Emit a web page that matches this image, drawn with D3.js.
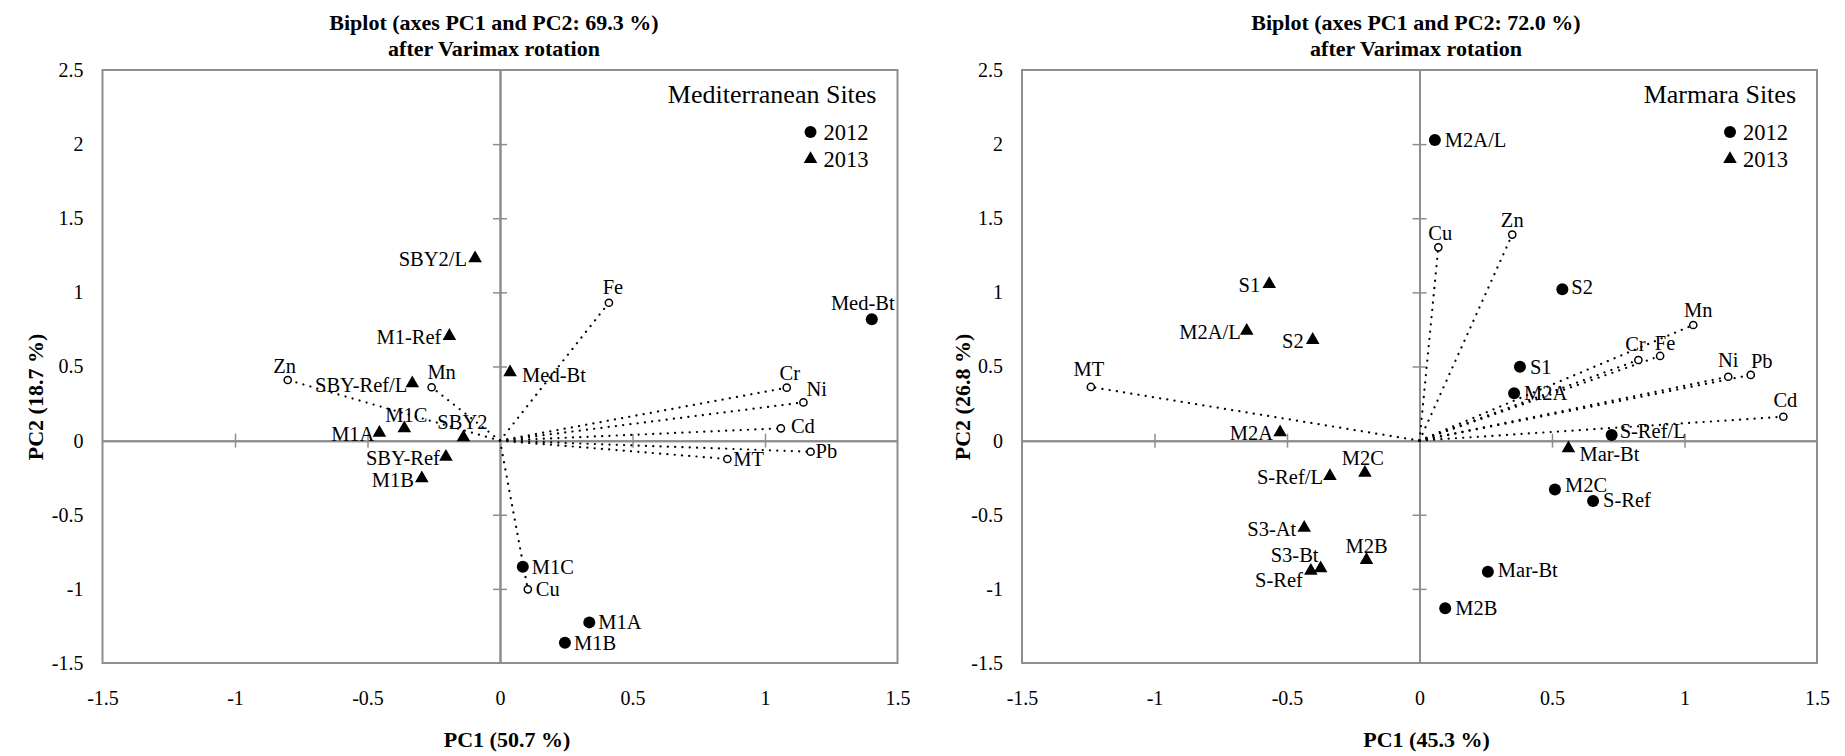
<!DOCTYPE html>
<html><head><meta charset="utf-8">
<script src="https://cdn.jsdelivr.net/npm/d3@7"></script>
<style>
body{margin:0;background:#fff}
svg{display:block;background:#fff}
</style>
</head><body>
<svg id="chart" width="1845" height="756"></svg>
<script>
// ---------- DATA: Mediterranean (left panel) ----------
const medTitle = "Biplot (axes PC1 and PC2: 69.3 %)";
const medSite = "Mediterranean Sites";
const medPC1Title = "PC1 (50.7 %)";
const medPC2Title = "PC2 (18.7 %)";
const medVarNames = ["Zn","Mn","Fe","Cr","Ni","Cd","Pb","MT","Cu"];
const medVarPC1   = [-0.801,-0.258,0.411,1.082,1.145,1.060,1.172,0.858,0.105];
const medVarPC2   = [0.409,0.360,0.930,0.357,0.258,0.083,-0.075,-0.124,-1.003];
const med2012Names = ["Med-Bt","M1C","M1A","M1B"];
const med2012PC1   = [1.403,0.086,0.337,0.245];
const med2012PC2   = [0.818,-0.850,-1.226,-1.363];
const med2013Names = ["SBY2/L","M1-Ref","SBY-Ref/L","Med-Bt","M1C","M1A","SBY2","SBY-Ref","M1B"];
const med2013PC1   = [-0.094,-0.191,-0.331,0.038,-0.361,-0.455,-0.138,-0.204,-0.295];
const med2013PC2   = [1.230,0.706,0.387,0.461,0.083,0.053,0.022,-0.109,-0.254];

// ---------- DATA: Marmara (right panel) ----------
const marTitle = "Biplot (axes PC1 and PC2: 72.0 %)";
const marSite = "Marmara Sites";
const marPC1Title = "PC1 (45.3 %)";
const marPC2Title = "PC2 (26.8 %)";
const marVarNames = ["Cu","Zn","Mn","Cr","Fe","Ni","Pb","Cd","MT"];
const marVarPC1   = [0.071,0.350,1.033,0.826,0.908,1.165,1.250,1.373,-1.240];
const marVarPC2   = [1.304,1.390,0.780,0.544,0.571,0.431,0.443,0.161,0.362];
const mar2012Names = ["M2A/L","S2","S1","M2A","S-Ref/L","M2C","S-Ref","Mar-Bt","M2B"];
const mar2012PC1   = [0.058,0.539,0.379,0.357,0.725,0.511,0.655,0.258,0.097];
const mar2012PC2   = [2.028,1.021,0.499,0.319,0.038,-0.329,-0.407,-0.884,-1.131];
const mar2013Names = ["S1","M2A/L","S2","M2A","S-Ref/L","M2C","S3-At","S3-Bt","S-Ref","M2B","Mar-Bt"];
const mar2013PC1   = [-0.567,-0.652,-0.403,-0.526,-0.338,-0.206,-0.435,-0.373,-0.410,-0.200,0.562];
const mar2013PC2   = [1.056,0.741,0.679,0.056,-0.239,-0.217,-0.588,-0.861,-0.878,-0.805,-0.052];

// ---------- AXES ----------
const xTickValues = [-1.5,-1,-0.5,0,0.5,1,1.5];
const yTickValues = [-1.5,-1,-0.5,0,0.5,1,1.5,2,2.5];
const subTitle = "after Varimax rotation";
const legendYears = ["2012","2013"];

// ---------- LABEL PLACEMENT (style) ----------
const medPlace = {
  vars: {Zn:["middle",-3,-14],Mn:["middle",10,-15],Fe:["middle",4,-16],Cr:["middle",3,-15],Ni:["start",3,-13],Cd:["start",10,-2],Pb:["start",5,-1],MT:["start",6,0],Cu:["start",8,0]},
  y12: {"Med-Bt":["middle",-9,-16],M1C:["start",9,0],M1A:["start",9,0],M1B:["start",9,0]},
  y13: {"SBY2/L":["end",-8,1],"M1-Ref":["end",-8,1],"SBY-Ref/L":["end",-5,2],"Med-Bt":["start",12,3],M1C:["middle",2,-13],M1A:["end",-5,1],SBY2:["middle",-1,-15],"SBY-Ref":["end",-6,1],M1B:["end",-8,2]}
};
const marPlace = {
  vars: {Cu:["middle",2,-14],Zn:["middle",0,-15],Mn:["middle",5,-15],Cr:["middle",-3,-16],Fe:["middle",5,-13],Ni:["middle",0,-17],Pb:["middle",11,-14],Cd:["middle",2,-17],MT:["middle",-2,-18]},
  y12: {"M2A/L":["start",10,0],S2:["start",9,-2],S1:["start",10,0],M2A:["start",10,0],"S-Ref/L":["start",8,-4],M2C:["start",10,-4],"S-Ref":["start",10,-1],"Mar-Bt":["start",10,-2],M2B:["start",10,0]},
  y13: {S1:["end",-9,1],"M2A/L":["end",-6,1],S2:["end",-9,1],M2A:["end",-7,1],"S-Ref/L":["end",-7,1],M2C:["middle",-2,-15],"S3-At":["end",-8,1],"S3-Bt":["middle",-26,-13],"S-Ref":["end",-8,9],M2B:["middle",0,-14],"Mar-Bt":["start",11,6]}
};

const FONT = "'Liberation Serif','Times New Roman',serif";
const GREY = "#8e8e8e";
const svg = d3.select("#chart");
const triSym = d3.symbol().type(d3.symbolTriangle).size(80);

function panel(p) {
  const x = d3.scaleLinear().domain([-1.5,1.5]).range(p.xRange);
  const y = d3.scaleLinear().domain([-1.5,2.5]).range([663,70]);
  const g = svg.append("g").attr("font-family", FONT);

  // frame
  g.append("rect").attr("x", x(-1.5)).attr("y", y(2.5))
    .attr("width", x(1.5)-x(-1.5)).attr("height", y(-1.5)-y(2.5))
    .attr("fill","none").attr("stroke",GREY).attr("stroke-width",2);

  // central axes with crossing ticks
  const innerX = xTickValues.filter(v => Math.abs(v) < 1.5 && v !== 0);
  const innerY = yTickValues.filter(v => v > -1.5 && v < 2.5 && v !== 0);
  [d3.axisBottom, d3.axisTop].forEach(ax => {
    const a = g.append("g").attr("transform", `translate(0,${y(0)})`)
      .call(ax(x).tickValues(innerX).tickSize(7).tickSizeOuter(0).tickFormat(""));
    a.select(".domain").attr("stroke",GREY).attr("stroke-width",2);
    a.selectAll(".tick line").attr("stroke",GREY).attr("stroke-width",1.5);
  });
  [d3.axisLeft, d3.axisRight].forEach(ax => {
    const a = g.append("g").attr("transform", `translate(${x(0)},0)`)
      .call(ax(y).tickValues(innerY).tickSize(7).tickSizeOuter(0).tickFormat(""));
    a.select(".domain").attr("stroke",GREY).attr("stroke-width",2);
    a.selectAll(".tick line").attr("stroke",GREY).attr("stroke-width",1.5);
  });

  // tick labels
  const ya = g.append("g").attr("transform", `translate(${x(-1.5)},0)`)
    .call(d3.axisLeft(y).tickValues(yTickValues).tickSize(0).tickPadding(19).tickFormat(d => String(d)));
  ya.select(".domain").remove();
  ya.attr("font-family", FONT).attr("font-size", 20);
  ya.selectAll("text").attr("fill","#000");
  const xa = g.append("g").attr("transform", `translate(0,${y(-1.5)})`)
    .call(d3.axisBottom(x).tickValues(xTickValues).tickSize(0).tickPadding(28).tickFormat(d => String(d)));
  xa.select(".domain").remove();
  xa.attr("font-family", FONT).attr("font-size", 20);
  xa.selectAll("text").attr("fill","#000");

  // titles
  g.append("text").attr("x", p.titleX).attr("y", 29.5).attr("text-anchor","middle")
    .attr("font-size",22).attr("font-weight","bold").text(p.title);
  g.append("text").attr("x", p.titleX).attr("y", 56).attr("text-anchor","middle")
    .attr("font-size",22).attr("font-weight","bold").text(subTitle);
  g.append("text").attr("x", x(0)+7).attr("y", 746.5).attr("text-anchor","middle")
    .attr("font-size",22).attr("font-weight","bold").text(p.pc1Title);
  g.append("text").attr("transform", `translate(${p.pc2X},397) rotate(-90)`)
    .attr("text-anchor","middle").attr("dominant-baseline","central")
    .attr("font-size",22).attr("font-weight","bold").text(p.pc2Title);

  // site name + legend
  g.append("text").attr("x", x(1.5)-21).attr("y", 103).attr("text-anchor","end")
    .attr("font-size",26).text(p.site);
  const lx = x(1.5) - 87;
  g.append("circle").attr("cx", lx).attr("cy", 132).attr("r", 6).attr("fill","#000");
  g.append("path").attr("d", triSym()).attr("transform", `translate(${lx},159)`).attr("fill","#000");
  g.selectAll("text.leg").data(legendYears).join("text").attr("class","leg")
    .attr("font-size",22.5)
    .attr("x", lx+13).attr("y", (d,i) => i === 0 ? 140 : 166.5)
    .text(d => d);

  // variable vectors (dotted)
  const vars = p.varNames.map((n,i) => ({n, a:p.varPC1[i], b:p.varPC2[i]}));
  g.selectAll("line.vec").data(vars).join("line").attr("class","vec")
    .attr("x1", x(0)).attr("y1", y(0)).attr("x2", d => x(d.a)).attr("y2", d => y(d.b))
    .attr("stroke","#000").attr("stroke-width",2.2).attr("stroke-linecap","round")
    .attr("stroke-dasharray","0.1,7.2");
  g.selectAll("circle.var").data(vars).join("circle").attr("class","var")
    .attr("cx", d => x(d.a)).attr("cy", d => y(d.b)).attr("r", 3.6)
    .attr("fill","#fff").attr("stroke","#000").attr("stroke-width",1.5);

  // observations
  const o12 = p.n12.map((n,i) => ({n, a:p.x12[i], b:p.y12[i]}));
  const o13 = p.n13.map((n,i) => ({n, a:p.x13[i], b:p.y13[i]}));
  g.selectAll("circle.o12").data(o12).join("circle").attr("class","o12")
    .attr("cx", d => x(d.a)).attr("cy", d => y(d.b)).attr("r", 6).attr("fill","#000");
  g.selectAll("path.o13").data(o13).join("path").attr("class","o13")
    .attr("d", triSym()).attr("transform", d => `translate(${x(d.a)},${y(d.b)})`).attr("fill","#000");

  // labels
  function labels(data, place, cls) {
    g.selectAll("text."+cls).data(data).join("text").attr("class", cls)
      .attr("x", d => x(d.a) + place[d.n][1])
      .attr("y", d => y(d.b) + place[d.n][2])
      .attr("text-anchor", d => place[d.n][0])
      .attr("dominant-baseline","central")
      .attr("font-size",20.5).attr("fill","#000")
      .text(d => d.n);
  }
  labels(vars, p.place.vars, "lv");
  labels(o12, p.place.y12, "l12");
  labels(o13, p.place.y13, "l13");
}

panel({xRange:[102.5,897.5], titleX:494, pc2X:35, title:medTitle, site:medSite,
  pc1Title:medPC1Title, pc2Title:medPC2Title,
  varNames:medVarNames, varPC1:medVarPC1, varPC2:medVarPC2,
  n12:med2012Names, x12:med2012PC1, y12:med2012PC2,
  n13:med2013Names, x13:med2013PC1, y13:med2013PC2, place:medPlace});
panel({xRange:[1022,1817], titleX:1416, pc2X:962, title:marTitle, site:marSite,
  pc1Title:marPC1Title, pc2Title:marPC2Title,
  varNames:marVarNames, varPC1:marVarPC1, varPC2:marVarPC2,
  n12:mar2012Names, x12:mar2012PC1, y12:mar2012PC2,
  n13:mar2013Names, x13:mar2013PC1, y13:mar2013PC2, place:marPlace});
</script>
</body></html>
